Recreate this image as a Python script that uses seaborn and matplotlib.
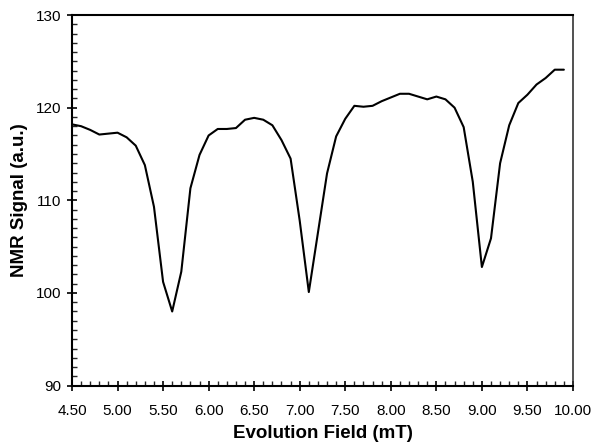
import numpy as np
import pandas as pd
import matplotlib
matplotlib.use("Agg")
import matplotlib.pyplot as plt
from matplotlib.ticker import MultipleLocator, FormatStrFormatter
import seaborn as sns

sns.set_theme(style="white")
plt.rcParams['font.family'] = ['Liberation Sans', 'DejaVu Sans']
plt.rcParams['text.color'] = 'black'
plt.rcParams['axes.labelcolor'] = 'black'

# evolution field (mT) and NMR signal (a.u.)
field = [4.5, 4.6, 4.7, 4.8, 4.9, 5.0, 5.1, 5.2, 5.3, 5.4,
         5.5, 5.6, 5.7, 5.8, 5.9, 6.0, 6.1, 6.2, 6.3, 6.4,
         6.5, 6.6, 6.7, 6.8, 6.9, 7.0, 7.1, 7.2, 7.3, 7.4,
         7.5, 7.6, 7.7, 7.8, 7.9, 8.0, 8.1, 8.2, 8.3, 8.4,
         8.5, 8.6, 8.7, 8.8, 8.9, 9.0, 9.1, 9.2, 9.3, 9.4,
         9.5, 9.6, 9.7, 9.8, 9.9]
signal = [118.2, 118.0, 117.6, 117.1, 117.2, 117.3, 116.8, 115.9, 113.8, 109.3,
          101.2, 98.0, 102.3, 111.3, 114.9, 117.0, 117.7, 117.7, 117.8, 118.7,
          118.9, 118.7, 118.1, 116.5, 114.5, 107.8, 100.1, 106.5, 112.9, 116.9,
          118.8, 120.2, 120.1, 120.2, 120.7, 121.1, 121.5, 121.5, 121.2, 120.9,
          121.2, 120.9, 120.0, 117.9, 112.0, 102.8, 105.9, 114.0, 118.1, 120.5,
          121.4, 122.5, 123.2, 124.1, 124.1]

df = pd.DataFrame({'field': field, 'signal': signal})

fig = plt.figure(figsize=(5.94, 4.42), dpi=100)
ax = fig.add_axes([0.1212, 0.1276, 0.8434, 0.8384])

sns.lineplot(data=df, x='field', y='signal', color='black', linewidth=1.5, ax=ax)

ax.set_xlim(4.5, 10.0)
ax.set_ylim(90, 130)
ax.xaxis.set_major_locator(MultipleLocator(0.5))
ax.xaxis.set_minor_locator(MultipleLocator(0.1))
ax.yaxis.set_major_locator(MultipleLocator(10))
ax.yaxis.set_minor_locator(MultipleLocator(1))
ax.xaxis.set_major_formatter(FormatStrFormatter('%.2f'))
ax.yaxis.set_major_formatter(FormatStrFormatter('%d'))

ax.tick_params(which='major', direction='inout', length=7, width=1.2,
               labelsize=11, colors='black', labelcolor='black',
               bottom=True, left=True, top=False, right=False)
ax.tick_params(which='minor', direction='in', length=3.5, width=1,
               bottom=True, left=True, top=False, right=False)
ax.tick_params(axis='x', pad=10)
ax.tick_params(axis='y', pad=4)

for side in ['left', 'bottom', 'top']:
    ax.spines[side].set_color('black')
    ax.spines[side].set_linewidth(1.5)
ax.spines['right'].set_color('#333333')
ax.spines['right'].set_linewidth(1.2)

ax.set_xlabel('Evolution Field (mT)', fontsize=13.5, fontweight='bold',
              color='black', labelpad=5)
ax.set_ylabel('NMR Signal (a.u.)', fontsize=13.5, fontweight='bold',
              color='black', labelpad=6)
ax.grid(False)

fig.savefig('out.png', dpi=100)
